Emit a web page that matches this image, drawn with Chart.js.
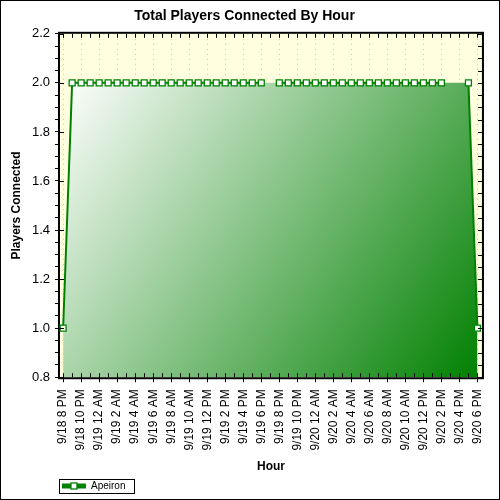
<!DOCTYPE html>
<html>
<head>
<meta charset="utf-8">
<title>Total Players Connected By Hour</title>
<script src="https://cdn.jsdelivr.net/npm/chart.js@4.4.0/dist/chart.umd.min.js"></script>
<style>
  body { margin: 0; background: #fff; }
  #frame { width: 500px; height: 500px; box-sizing: border-box; border: 1px solid #000; }
  #frame canvas { display: block; }
</style>
</head>
<body>
<div id="frame"><canvas id="playersChart" width="498" height="498"></canvas></div>
<script>
// hourly buckets, 9/18 8 PM .. 9/20 6 PM
const hours = [
  '9/18 8 PM', '9/18 9 PM', '9/18 10 PM', '9/18 11 PM',
  '9/19 12 AM', '9/19 1 AM', '9/19 2 AM', '9/19 3 AM', '9/19 4 AM', '9/19 5 AM',
  '9/19 6 AM', '9/19 7 AM', '9/19 8 AM', '9/19 9 AM', '9/19 10 AM', '9/19 11 AM',
  '9/19 12 PM', '9/19 1 PM', '9/19 2 PM', '9/19 3 PM', '9/19 4 PM', '9/19 5 PM',
  '9/19 6 PM', '9/19 7 PM', '9/19 8 PM', '9/19 9 PM', '9/19 10 PM', '9/19 11 PM',
  '9/20 12 AM', '9/20 1 AM', '9/20 2 AM', '9/20 3 AM', '9/20 4 AM', '9/20 5 AM',
  '9/20 6 AM', '9/20 7 AM', '9/20 8 AM', '9/20 9 AM', '9/20 10 AM', '9/20 11 AM',
  '9/20 12 PM', '9/20 1 PM', '9/20 2 PM', '9/20 3 PM', '9/20 4 PM', '9/20 5 PM',
  '9/20 6 PM'
];

// players connected (null = no sample that hour)
const apeiron = [
  1, 2, 2, 2, 2, 2, 2, 2, 2, 2,
  2, 2, 2, 2, 2, 2, 2, 2, 2, 2,
  2, 2, 2, null, 2, 2, 2, 2, 2, 2,
  2, 2, 2, 2, 2, 2, 2, 2, 2, 2,
  2, 2, 2, null, null, 2, 1
];

const labelEvery = 2;          // every other hour gets a label
const yMin = 0.8, yMax = 2.2, yMajor = 0.2, yMinor = 0.05;

const green = '#008000';

function areaGradient(chart) {
  const area = chart.chartArea;
  if (!area) return '#80c080';
  const top = chart.scales.y.getPixelForValue(2);
  const g = chart.ctx.createLinearGradient(area.left, top, area.right, area.bottom);
  g.addColorStop(0, '#ffffff');
  g.addColorStop(1, green);
  return g;
}

const plotDecor = {
  id: 'plotDecor',
  beforeDraw(chart) {
    const {ctx, chartArea: a} = chart;
    ctx.save();
    ctx.fillStyle = '#ffffe0';
    ctx.fillRect(a.left, a.top, a.right - a.left, a.bottom - a.top);
    ctx.restore();
  },
  beforeDatasetsDraw(chart) {
    const {ctx, chartArea: a} = chart;
    ctx.save();
    ctx.strokeStyle = '#000';
    ctx.lineWidth = 2;
    ctx.strokeRect(a.left - 1, a.top - 1, a.right - a.left + 2, a.bottom - a.top + 2);
    ctx.restore();
  },
  afterDatasetsDraw(chart) {
    const {ctx, chartArea: a, scales: {x, y}} = chart;
    ctx.save();
    ctx.strokeStyle = '#000';
    ctx.lineWidth = 1;
    ctx.beginPath();
    x.ticks.forEach(t => {
      const px = Math.round(x.getPixelForValue(t.value)) + 0.5;
      ctx.moveTo(px, a.bottom); ctx.lineTo(px, a.bottom - 4);
      ctx.moveTo(px, a.top); ctx.lineTo(px, a.top + 4);
    });
    y.ticks.forEach(t => {
      const py = Math.round(y.getPixelForValue(t.value)) + 0.5;
      ctx.moveTo(a.right, py); ctx.lineTo(a.right - 4, py);
      if (t.label) { ctx.moveTo(a.left, py); ctx.lineTo(a.left + 4, py); }
    });
    ctx.stroke();
    ctx.restore();
  },
  afterDraw(chart) {
    const lg = chart.legend;
    if (!lg || !lg.legendHitBoxes.length) return;
    const hb = lg.legendHitBoxes[0];
    const ctx = chart.ctx;
    const cy = hb.top + hb.height / 2;
    ctx.save();
    // marker on the legend line
    ctx.fillStyle = '#fff';
    ctx.strokeStyle = green;
    ctx.lineWidth = 1.3;
    ctx.fillRect(hb.left + 12 - 3, cy - 3, 6, 6);
    ctx.strokeRect(hb.left + 12 - 3, cy - 3, 6, 6);
    // legend frame
    ctx.strokeStyle = '#000';
    ctx.lineWidth = 1;
    ctx.strokeRect(Math.round(hb.left - 3) + 0.5, Math.round(cy - 7) + 0.5, Math.round(hb.width + 12), 14);
    ctx.restore();
  }
};

Chart.defaults.font.family = '"Liberation Sans", Arial, sans-serif';
Chart.defaults.color = '#000';

const points = apeiron.map((v, i) => ({x: i, y: v}));

new Chart(document.getElementById('playersChart'), {
  type: 'line',
  data: {
    datasets: [{
      label: 'Apeiron',
      data: points,
      borderColor: green,
      borderWidth: 2,
      fill: false,
      spanGaps: false,
      pointStyle: 'rect',
      pointRadius: 4.2,
      pointBorderWidth: 1.3,
      pointBackgroundColor: '#fff',
      pointBorderColor: green,
      tension: 0,
      clip: 8
    }, {
      // area under the series, bridging the missing hours
      label: 'Apeiron area',
      data: points,
      borderWidth: 0,
      borderColor: 'rgba(0,0,0,0)',
      backgroundColor: ctx => areaGradient(ctx.chart),
      fill: 'start',
      spanGaps: true,
      pointRadius: 0,
      tension: 0
    }]
  },
  options: {
    responsive: false,
    animation: false,
    layout: { padding: { left: 4, right: 15, top: 0, bottom: -2 } },
    plugins: {
      title: {
        display: true,
        text: 'Total Players Connected By Hour',
        font: { size: 14, weight: 'bold' },
        color: '#000',
        padding: { top: 7, bottom: 9 }
      },
      legend: {
        position: 'bottom',
        align: 'start',
        fullSize: false,
        labels: {
          boxWidth: 24,
          boxHeight: 5,
          padding: 2,
          font: { size: 10 },
          color: '#000',
          generateLabels: chart => [{
            text: chart.data.datasets[0].label, fillStyle: green, strokeStyle: green,
            lineWidth: 0, hidden: false, datasetIndex: 0
          }]
        }
      },
      tooltip: { enabled: false }
    },
    scales: {
      x: {
        type: 'linear',
        min: -0.35,
        max: hours.length - 0.5,
        afterBuildTicks: axis => { axis.ticks = hours.map((h, i) => ({ value: i })); },
        ticks: {
          autoSkip: false,
          minRotation: 90,
          maxRotation: 90,
          padding: 7,
          font: { size: 12 },
          color: '#000',
          callback: value => value % labelEvery === 0 ? hours[value] : ''
        },
        grid: {
          color: ctx => ctx.index % labelEvery === 0 ? '#c4c4c4' : 'rgba(0,0,0,0)',
          tickColor: ctx => ctx.index % labelEvery === 0 ? '#000' : 'rgba(0,0,0,0)',
          tickLength: 5
        },
        border: { display: false, dash: [1, 4] },
        title: {
          display: true,
          text: 'Hour',
          font: { size: 12, weight: 'bold' },
          color: '#000',
          padding: { top: 2, bottom: 5 }
        }
      },
      y: {
        min: yMin,
        max: yMax,
        afterBuildTicks: axis => {
          const ticks = [];
          const n = Math.round((yMax - yMin) / yMinor);
          for (let k = 0; k <= n; k++) ticks.push({ value: +(yMin + k * yMinor).toFixed(2) });
          axis.ticks = ticks;
        },
        ticks: {
          autoSkip: false,
          padding: 5,
          font: { size: 13 },
          color: '#000',
          callback: value => {
            const r = value / yMajor;
            return Math.abs(r - Math.round(r)) < 1e-6 ? value.toFixed(1) : '';
          }
        },
        grid: { drawOnChartArea: false, tickColor: '#000', tickLength: 5 },
        border: { display: false },
        title: {
          display: true,
          text: 'Players Connected',
          font: { size: 12, weight: 'bold' },
          color: '#000',
          padding: { top: 4, bottom: 3.5 }
        }
      }
    }
  },
  plugins: [plotDecor]
});
</script>
</body>
</html>
